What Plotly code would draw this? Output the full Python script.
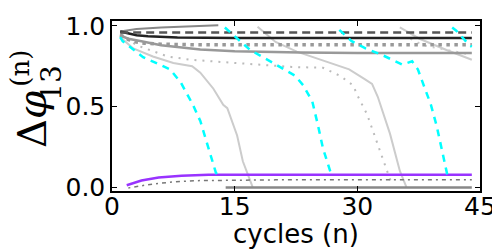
import plotly.graph_objects as go

# ---- data ----
dark_x = [1, 2, 3, 4.4, 8, 15, 30, 44]
dark_y = [0.965, 0.952, 0.942, 0.935, 0.928, 0.925, 0.924, 0.924]

dash_x = [1, 44]
dash_y = [0.959, 0.959]

dots_x = [1, 2, 3, 4, 6, 10, 20, 44]
dots_y = [0.945, 0.915, 0.9, 0.892, 0.886, 0.883, 0.882, 0.882]

gsol_x = [1, 2, 3.6, 6, 10.8, 15, 23, 30, 44]
gsol_y = [0.94, 0.92, 0.905, 0.88, 0.853, 0.843, 0.835, 0.832, 0.832]

rise_x = [1, 3, 6, 9, 13]
rise_y = [0.965, 0.98, 0.99, 0.997, 1.003]

bot_x = [13.9, 44]
bot_y = [-0.002, -0.002]

purp_x = [1.8, 3.6, 5.7, 8.5, 11.8, 20, 44]
purp_y = [0.012, 0.041, 0.059, 0.07, 0.076, 0.077, 0.077]

ddot_x = [2, 4.4, 7, 10, 20, 44]
ddot_y = [-0.005, 0.015, 0.03, 0.04, 0.045, 0.045]

cyanA_x = [1, 1.3, 3.8, 7.1, 8.4, 9.9, 10.8, 11.6, 12.7, 12.9]
cyanA_y = [0.93, 0.905, 0.806, 0.73, 0.65, 0.51, 0.41, 0.28, 0.09, 0.077]

cyanB_x = [13.8, 16.9, 19.7, 22.4, 23.4, 24.5, 25.2, 25.8, 26.8, 27.0]
cyanB_y = [0.99, 0.85, 0.77, 0.69, 0.63, 0.53, 0.38, 0.24, 0.08, 0.077]

cyanC_x = [27.8, 29.3, 31.0, 33.0, 35.5, 36.7, 37.4, 38.5, 39.0, 39.7, 40.3, 40.9, 41.0]
cyanC_y = [0.975, 0.905, 0.86, 0.82, 0.76, 0.78, 0.73, 0.57, 0.51, 0.38, 0.24, 0.1, 0.077]

cyanD_x = [41.6, 42.1, 43.7, 44]
cyanD_y = [0.99, 0.97, 0.88, 0.87]

lg1_x = [1, 2.6, 5, 7.5, 9.8, 10.8, 12.4, 13.6, 14.1, 15.3, 16, 16.8, 17.2]
lg1_y = [0.93, 0.86, 0.81, 0.77, 0.75, 0.71, 0.61, 0.51, 0.49, 0.32, 0.16, 0.06, 0.0]

lg2_x = [17.8, 20, 22.6, 25.4, 29, 30.9, 31.8, 32.5, 34, 35.2, 36]
lg2_y = [0.995, 0.9, 0.84, 0.79, 0.73, 0.67, 0.64, 0.56, 0.33, 0.1, 0.0]

lg3_x = [35.2, 36.5, 37.6, 40.9, 44]
lg3_y = [0.99, 0.95, 0.92, 0.85, 0.79]

ldd_x = [1, 3, 6.8, 9.6, 15, 22, 25.8, 27.9, 29.5, 30, 31.2, 32.4, 33.6, 34.2]
ldd_y = [0.95, 0.88, 0.81, 0.79, 0.77, 0.745, 0.74, 0.69, 0.63, 0.57, 0.45, 0.28, 0.1, 0.02]

ldd2_x = [36.5, 38, 44]
ldd2_y = [0.92, 0.88, 0.82]

x_ticks = [0, 15, 30, 45]
y_ticks = [0.0, 0.5, 1.0]
y_tick_text = ["0.0", "0.5", "1.0"]

fig = go.Figure()

def add(x, y, color, width, dash="solid"):
    fig.add_trace(go.Scatter(x=x, y=y, mode="lines",
                             line=dict(color=color, width=width, dash=dash),
                             hoverinfo="skip", showlegend=False))

add(lg1_x, lg1_y, "#cccccc", 2)
add(lg2_x, lg2_y, "#cccccc", 2)
add(lg3_x, lg3_y, "#cccccc", 2)
add(ldd_x, ldd_y, "#bbbbbb", 2, "2px,6px")
add(ldd2_x, ldd2_y, "#cccccc", 2, "2px,6px")
add(rise_x, rise_y, "#888888", 2)
add(gsol_x, gsol_y, "#999999", 2.5)
add(dots_x, dots_y, "#999999", 3.5, "3.5px,4.5px")
add(dark_x, dark_y, "#222222", 2.5)
add(dash_x, dash_y, "#555555", 2.5, "8px,5px")
add(bot_x, bot_y, "#888888", 2.5)
add(ddot_x, ddot_y, "#777777", 1.5, "2px,4px,4px,4px")
add(purp_x, purp_y, "#9933ff", 2.5)
add(cyanA_x, cyanA_y, "#00ffff", 2.5, "7px,6px")
add(cyanB_x, cyanB_y, "#00ffff", 2.5, "7px,6px")
add(cyanC_x, cyanC_y, "#00ffff", 2.5, "7px,6px")
add(cyanD_x, cyanD_y, "#00ffff", 2.5, "7px,6px")

# page body has an 8px margin, so the figure is drawn 8px right and down
OFF = 8
W, H = 500 - OFF, 250 - OFF
L, R, T, B = 112 - OFF, 19, 12 - OFF, 59
pw, ph = W - L - R, H - T - B

def px(sx):
    return (sx - OFF - L) / pw

def py(sy):
    return (H - B - (sy - OFF)) / ph

axis_common = dict(showline=True, linecolor="black", linewidth=1.5, mirror="allticks",
                   ticks="inside", ticklen=5, tickwidth=1, tickcolor="black",
                   showgrid=False, zeroline=False, ticklabeloverflow="allow",
                   tickfont=dict(family="DejaVu Sans", size=25, color="black"))

fig.update_layout(
    width=W, height=H,
    margin=dict(l=L, r=R, t=T, b=B),
    plot_bgcolor="white", paper_bgcolor="white",
    xaxis=dict(range=[0, 45], tickvals=x_ticks, ticktext=[str(v) for v in x_ticks],
               ticklabelstandoff=-8, **axis_common),
    yaxis=dict(range=[-0.024, 1.03], tickvals=y_ticks, ticktext=y_tick_text,
               **axis_common),
)

fig.add_annotation(text="cycles (n)", xref="paper", yref="paper", x=px(297), y=py(236),
                   xanchor="center", yanchor="middle", showarrow=False,
                   font=dict(family="DejaVu Sans", size=26, color="black"))

ann_font = "DejaVu Serif"
fig.add_annotation(text="Δ<i>φ</i>", xref="paper", yref="paper", x=px(32), y=py(116),
                   xanchor="center", yanchor="middle", showarrow=False, textangle=-90,
                   font=dict(family=ann_font, size=40, color="black"))
fig.add_annotation(text="13", xref="paper", yref="paper", x=px(52), y=py(77),
                   xanchor="center", yanchor="middle", showarrow=False, textangle=-90,
                   font=dict(family=ann_font, size=28, color="black"))
fig.add_annotation(text="(n)", xref="paper", yref="paper", x=px(20), y=py(62),
                   xanchor="center", yanchor="middle", showarrow=False, textangle=-90,
                   borderpad=0, font=dict(family=ann_font, size=26, color="black"))

fig.write_html("out.html")
